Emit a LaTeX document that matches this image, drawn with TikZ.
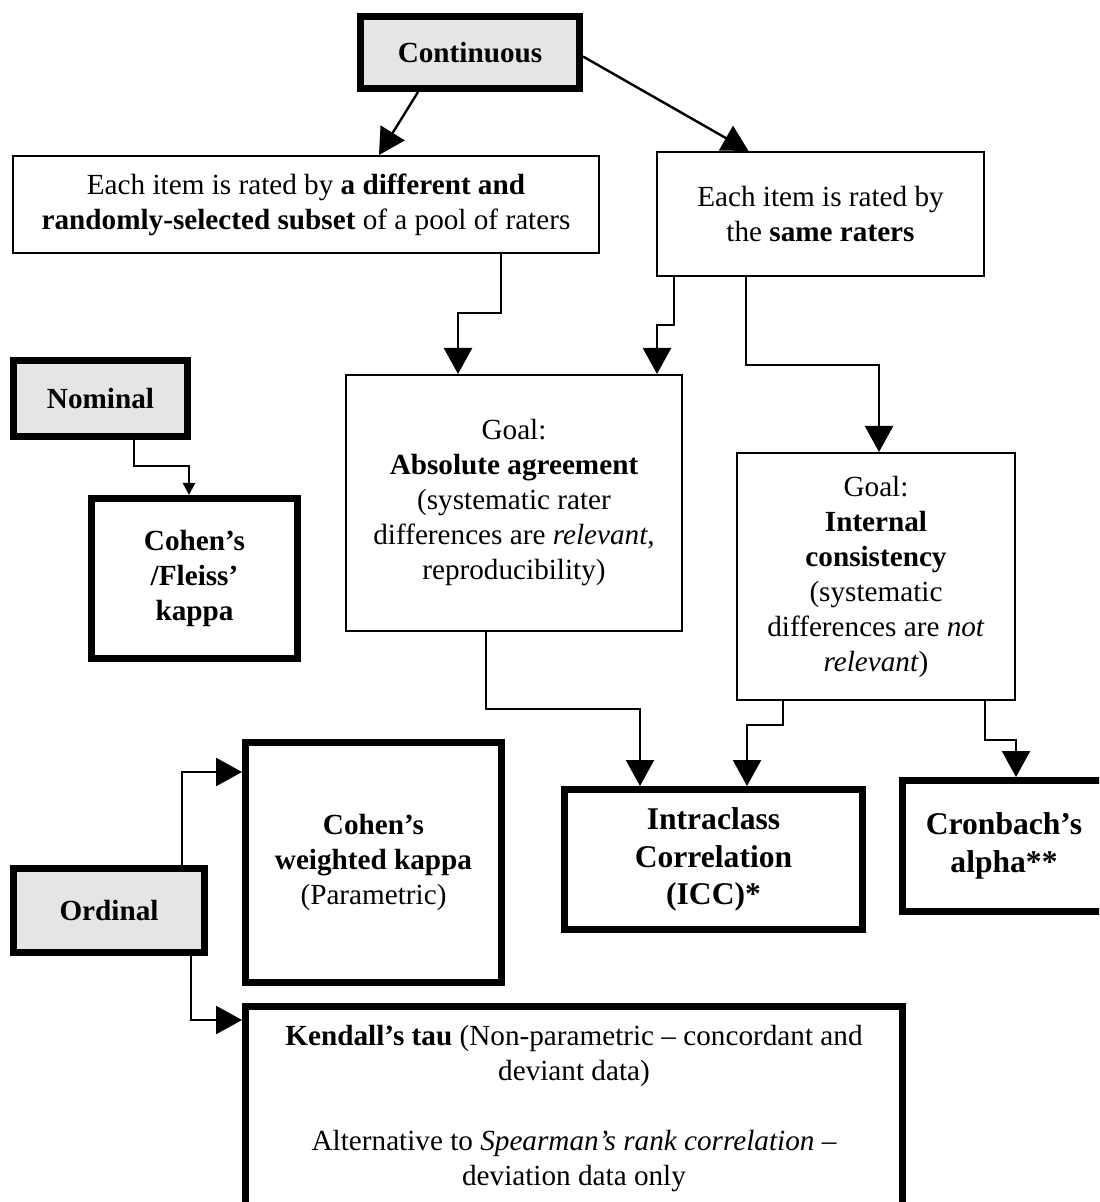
\documentclass[tikz,border=0pt]{standalone}
\usepackage{fontspec}
\setmainfont{Liberation Serif}
\usetikzlibrary{arrows.meta}

\begin{document}
\begin{tikzpicture}[x=0.5pt,y=-0.5pt,>={Triangle[length=13pt,width=14pt]},
                font=\fontsize{14.6}{17.5}\selectfont,
                plain/.style={draw,line width=1pt,align=center,inner sep=0pt},
                heavy/.style={draw,line width=3.5pt,align=center,inner sep=0pt},
                level/.style={heavy,fill=black!10,font=\fontsize{14.6}{17.5}\selectfont\bfseries},
                big/.style={font=\fontsize{15.8}{18.75}\selectfont\bfseries},
                link/.style={->,line width=1.2pt}]
                \useasboundingbox (0,0) rectangle (1099,1202);
                \clip (0,0) rectangle (1099,1202);
                % data levels
                \node[level,minimum width=109.5pt,minimum height=36pt] (cont) at (470,52.5) {Continuous};
                \node[level,minimum width=87pt,minimum height=38pt] (nom) at (100.5,398.5) {Nominal};
                \node[level,minimum width=95.5pt,minimum height=42pt] (ord) at (109,910.5) {Ordinal};
                % rater designs and goals
                \node[plain,minimum width=293pt,minimum height=48.5pt] (diff) at (306,204.5)
                        {Each item is rated by \textbf{a different and}\\ \textbf{randomly-selected subset} of a pool of raters};
                \node[plain,minimum width=163.5pt,minimum height=62pt] (same) at (820.5,214)
                        {Each item is rated by\\ the \textbf{same raters}};
                \node[plain,minimum width=168pt,minimum height=128pt] (abs) at (514,503)
                        {Goal:\\ \textbf{Absolute agreement}\\ (systematic rater\\ differences are \textit{relevant},\\ reproducibility)};
                \node[plain,minimum width=139pt,minimum height=123.5pt] (intl) at (876,576.5)
                        {Goal:\\ \textbf{Internal}\\ \textbf{consistency}\\ (systematic\\ differences are \textit{not}\\ \textit{relevant})};
                % measures
                \node[heavy,minimum width=103pt,minimum height=80pt] (fleiss) at (194.5,578.5)
                        {\textbf{Cohen’s}\\ \textbf{/Fleiss’}\\ \textbf{kappa}};
                \node[heavy,minimum width=128pt,minimum height=120pt] (wkap) at (373.5,862.5)
                        {\textbf{Cohen’s}\\ \textbf{weighted kappa}\\ (Parametric)};
                \node[heavy,big,minimum width=149pt,minimum height=70pt] (icc) at (713.5,859.5)
                        {Intraclass\\ Correlation\\ (ICC)*};
                \node[heavy,big,minimum width=101.5pt,minimum height=65.5pt] (cron) at (1004,846)
                        {Cronbach’s\\ alpha**};
                \node[heavy,minimum width=328.5pt,minimum height=102.5pt] (kend) at (574,1109)
                        {\textbf{Kendall’s tau} (Non-parametric – concordant and\\ deviant data)\\[17.5pt]
                         Alternative to \textit{Spearman’s rank correlation} –\\ deviation data only};
                % connectors
                \draw[link] ([xshift=-26pt]cont.south) -- ([xshift=36.5pt]diff.north);
                \draw[link] ([yshift=-2pt]cont.east) -- ([xshift=-36pt]same.north);
                \draw[link] ([xshift=97.5pt]diff.south) -- ++(0,59) -| ([xshift=-28pt]abs.north);
                \draw[link] ([xshift=-73.25pt]same.south) -- ++(0,48) -| ([xshift=71.5pt]abs.north);
                \draw[link] ([xshift=-37.25pt]same.south) -- ++(0,88) -| ([xshift=1.5pt]intl.north);
                \draw[-{Triangle[length=6pt,width=6pt]},line width=1.2pt] ([xshift=16.75pt]nom.south) -- ++(0,26) -| ([xshift=-2.75pt]fleiss.north);
                \draw[link] ([xshift=-14pt]abs.south) -- ++(0,77) -| ([xshift=-36.75pt]icc.north);
                \draw[link] ([xshift=-46.5pt]intl.south) -- ++(0,24) -| ([xshift=16.75pt]icc.north);
                \draw[link] ([xshift=54.5pt]intl.south) -- ++(0,39) -| ([xshift=6pt]cron.north);
                \draw[link] ([xshift=36.5pt]ord.north) |- ([yshift=45.25pt]wkap.west);
                \draw[link] ([xshift=41pt]ord.south) |- ([yshift=44.5pt]kend.west);
            \end{tikzpicture}
\end{document}
